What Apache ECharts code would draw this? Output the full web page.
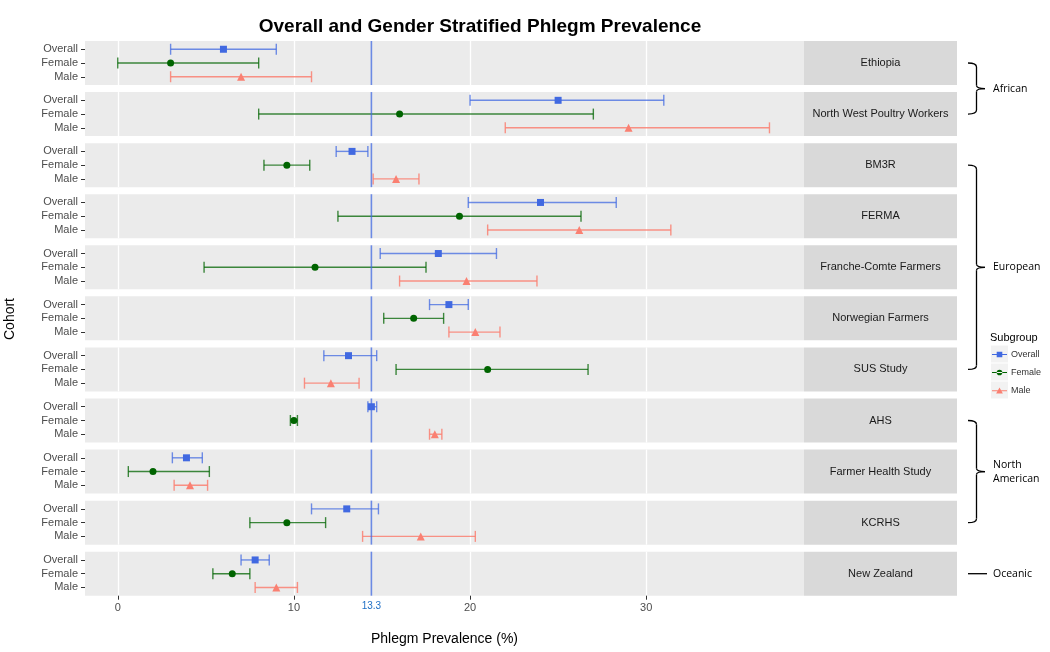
<!DOCTYPE html>
<html>
<head>
<meta charset="utf-8">
<script src="https://cdn.jsdelivr.net/npm/echarts@6/dist/echarts.min.js"></script>
<style>
  html, body { margin: 0; padding: 0; background: #fff; }
  #main { width: 1050px; height: 652px; }
</style>
</head>
<body>
<div id="main"></div>
<script>
// data
var cohorts = ['Ethiopia', 'North West Poultry Workers', 'BM3R', 'FERMA', 'Franche-Comte Farmers',
    'Norwegian Farmers', 'SUS Study', 'AHS', 'Farmer Health Study', 'KCRHS', 'New Zealand'];
var subgroups = ['Overall', 'Female', 'Male'];

var overallEst  = [6.0, 25.0, 13.3, 24.0, 18.2, 18.8, 13.1, 14.4, 3.9, 13.0, 7.8];
var overallLow  = [3.0, 20.0, 12.4, 19.9, 14.9, 17.7, 11.7, 14.2, 3.1, 11.0, 7.0];
var overallHigh = [9.0, 31.0, 14.2, 28.3, 21.5, 19.9, 14.7, 14.7, 4.8, 14.8, 8.6];

var femaleEst  = [3.0, 16.0, 9.6, 19.4, 11.2, 16.8, 21.0, 10.0, 2.0, 9.6, 6.5];
var femaleLow  = [0.0, 8.0, 8.3, 12.5, 4.9, 15.1, 15.8, 9.8, 0.6, 7.5, 5.4];
var femaleHigh = [8.0, 27.0, 10.9, 26.3, 17.5, 18.5, 26.7, 10.2, 5.2, 11.8, 7.5];

var maleEst  = [7.0, 29.0, 15.8, 26.2, 19.8, 20.3, 12.1, 18.0, 4.1, 17.2, 9.0];
var maleLow  = [3.0, 22.0, 14.5, 21.0, 16.0, 18.8, 10.6, 17.7, 3.2, 13.9, 7.8];
var maleHigh = [11.0, 37.0, 17.1, 31.4, 23.8, 21.7, 13.7, 18.4, 5.1, 20.3, 10.2];

var xTicks = [0, 10, 20, 30];
var refValue = 14.4;
var refLabel = '13.3';

var regionNames = ['African', 'European', 'North\nAmerican', 'Oceanic'];
var regionFirst = [0, 2, 7, 10];
var regionLast = [1, 6, 9, 10];

// layout
var panelLeft = 85, panelRight = 804, stripRight = 957;
var panelTop0 = 41, panelPitch = 51.07, panelHeight = 44;
var xMin = -1.86, xMax = 38.96;
var FONT = 'Liberation Sans, Arial, sans-serif';

var pointColors = ['#4169e1', '#006400', '#fa8072'];
var barColors = ['rgba(65,105,225,0.75)', 'rgba(0,100,0,0.75)', 'rgba(250,128,114,0.85)'];
var symbols = ['rect', 'circle', 'triangle'];
var symbolSizes = [7, 7, 8];
var legendIcons = [
    'path://M0,3.5h16v1h-16z M5,1h6v6h-6z',
    'path://M0,3.5h16v1h-16z M8,1a3,3 0 1,0 0.01,0z',
    'path://M0,3.5h16v1h-16z M8,0.6L11.6,7H4.4z'
];

var estimates = [overallEst, femaleEst, maleEst];
var lows = [overallLow, femaleLow, maleLow];
var highs = [overallHigh, femaleHigh, maleHigh];
var rowIdx = [0, 1, 2];

function panelTop(i) { return panelTop0 + i * panelPitch; }
function panelCenter(i) { return panelTop(i) + panelHeight / 2; }

var chart = echarts.init(document.getElementById('main'));

var grids = [], xAxes = [], yAxes = [], series = [], graphics = [];
var lastIdx = cohorts.length - 1;

function renderErrorBar(params, api) {
    var k = api.value(2);
    var a = api.coord([api.value(0), k]);
    var b = api.coord([api.value(1), k]);
    var h = 5.5;
    var style = { stroke: barColors[k], lineWidth: 1.4 };
    return {
        type: 'group',
        children: [
            { type: 'line', shape: { x1: a[0], y1: a[1], x2: b[0], y2: b[1] }, style: style },
            { type: 'line', shape: { x1: a[0], y1: a[1] - h, x2: a[0], y2: a[1] + h }, style: style },
            { type: 'line', shape: { x1: b[0], y1: b[1] - h, x2: b[0], y2: b[1] + h }, style: style }
        ]
    };
}

function makeRefRenderer(withLabel) {
    return function (params, api) {
        var cs = params.coordSys;
        var x = api.coord([api.value(0), 0])[0];
        var children = [{
            type: 'line',
            shape: { x1: x, y1: cs.y, x2: x, y2: cs.y + cs.height },
            style: { stroke: 'rgba(65,105,225,0.75)', lineWidth: 1.6 }
        }];
        if (withLabel) {
            children.push({
                type: 'text', x: x, y: cs.y + cs.height + 11,
                style: { text: refLabel, fill: '#1f6fc5', fontSize: 10, fontFamily: FONT,
                    align: 'center', verticalAlign: 'middle' }
            });
        }
        return { type: 'group', children: children };
    };
}

cohorts.forEach(function (name, i) {
    var isLast = i === lastIdx;
    grids.push({
        left: panelLeft, width: panelRight - panelLeft,
        top: panelTop(i), height: panelHeight,
        show: true, backgroundColor: '#ebebeb', borderWidth: 0
    });
    xAxes.push({
        type: 'value', gridIndex: i, min: xMin, max: xMax,
        axisLine: { show: false, onZero: false },
        axisTick: { show: isLast, length: 4, lineStyle: { color: '#333' }, customValues: xTicks },
        axisLabel: { show: isLast, fontSize: 11, color: '#4d4d4d', margin: 7, customValues: xTicks,
            fontFamily: FONT },
        splitLine: { show: true, lineStyle: { color: '#fff', width: 1.3 }, customValues: xTicks }
    });
    yAxes.push({
        type: 'value', gridIndex: i, min: -0.6, max: 2.6, inverse: true,
        axisLine: { show: false, onZero: false },
        axisTick: { show: true, length: 4, lineStyle: { color: '#333' }, customValues: rowIdx },
        axisLabel: { fontSize: 11, color: '#4d4d4d', margin: 7, fontFamily: FONT, customValues: rowIdx,
            formatter: function (v) { return subgroups[Math.round(v)]; } },
        splitLine: { show: false }
    });

    series.push({
        type: 'custom', xAxisIndex: i, yAxisIndex: i, z: 2, silent: true,
        data: subgroups.map(function (s, k) { return [lows[k][i], highs[k][i], k]; }),
        encode: { x: [0, 1], y: 2 },
        renderItem: renderErrorBar
    });

    series.push({
        type: 'custom', xAxisIndex: i, yAxisIndex: i, z: 3, silent: true,
        data: [[refValue, 0]],
        encode: { x: 0, y: 1 },
        renderItem: makeRefRenderer(isLast)
    });

    subgroups.forEach(function (s, k) {
        series.push({
            type: 'scatter', name: s, xAxisIndex: i, yAxisIndex: i, z: 4,
            symbol: symbols[k], symbolSize: symbolSizes[k],
            itemStyle: { color: pointColors[k], opacity: 1 },
            data: [[estimates[k][i], k]]
        });
    });

    // facet strip
    graphics.push({
        type: 'rect', silent: true,
        shape: { x: panelRight, y: panelTop(i), width: stripRight - panelRight, height: panelHeight },
        style: { fill: '#d9d9d9' }
    });
    graphics.push({
        type: 'text', silent: true,
        x: (panelRight + stripRight) / 2, y: panelCenter(i),
        style: { text: name, fill: '#1a1a1a', fontSize: 11, align: 'center', verticalAlign: 'middle',
            fontFamily: FONT }
    });
});

// region brackets
var bx0 = 968, bx1 = 976.5, bx2 = 985;
var bStyle = { stroke: '#000', lineWidth: 1.3, fill: 'none' };
regionNames.forEach(function (r, j) {
    var yA = panelCenter(regionFirst[j]);
    var yB = panelCenter(regionLast[j]);
    var yM = (yA + yB) / 2;
    if (regionFirst[j] === regionLast[j]) {
        graphics.push({
            type: 'line', silent: true,
            shape: { x1: bx0, y1: yM, x2: 987, y2: yM },
            style: bStyle
        });
    } else {
        graphics.push(
            { type: 'bezierCurve', silent: true,
              shape: { x1: bx0, y1: yA, cpx1: bx1, cpy1: yA, x2: bx1, y2: yA + 4 }, style: bStyle },
            { type: 'line', silent: true,
              shape: { x1: bx1, y1: yA + 4, x2: bx1, y2: yM - 3 }, style: bStyle },
            { type: 'bezierCurve', silent: true,
              shape: { x1: bx1, y1: yM - 3, cpx1: bx1, cpy1: yM, x2: bx2, y2: yM }, style: bStyle },
            { type: 'bezierCurve', silent: true,
              shape: { x1: bx2, y1: yM, cpx1: bx1, cpy1: yM, x2: bx1, y2: yM + 3 }, style: bStyle },
            { type: 'line', silent: true,
              shape: { x1: bx1, y1: yM + 3, x2: bx1, y2: yB - 4 }, style: bStyle },
            { type: 'bezierCurve', silent: true,
              shape: { x1: bx1, y1: yB - 4, cpx1: bx1, cpy1: yB, x2: bx0, y2: yB }, style: bStyle }
        );
    }
    graphics.push({
        type: 'text', silent: true, x: 993, y: yM,
        style: { text: r, fill: '#000', fontSize: 10.5, verticalAlign: 'middle', lineHeight: 14,
            fontFamily: 'Open Sans, DejaVu Sans, sans-serif' }
    });
});

// legend title and key backgrounds
graphics.push({
    type: 'text', silent: true, x: 990, y: 338,
    style: { text: 'Subgroup', fill: '#000', fontSize: 11, verticalAlign: 'middle', fontFamily: FONT }
});
subgroups.forEach(function (s, k) {
    graphics.push({
        type: 'rect', silent: true, z: -1,
        shape: { x: 991, y: 345.5 + k * 18, width: 17, height: 17 },
        style: { fill: '#f2f2f2' }
    });
});

chart.setOption({
    animation: false,
    backgroundColor: '#fff',
    title: {
        text: 'Overall and Gender Stratified Phlegm Prevalence',
        left: 475, top: 12, textAlign: 'center',
        textStyle: { fontSize: 19, fontWeight: 'bold', color: '#000', fontFamily: FONT }
    },
    legend: {
        data: subgroups.map(function (s, k) { return { name: s, icon: legendIcons[k] }; }),
        orient: 'vertical', left: 992, top: 350, padding: 0,
        itemWidth: 15, itemHeight: 7.5, itemGap: 9,
        selectedMode: false,
        textStyle: { fontSize: 9, color: '#333', padding: [0, 0, 0, -1], fontFamily: FONT }
    },
    grid: grids,
    xAxis: xAxes,
    yAxis: yAxes,
    series: series,
    graphic: [
        {
            type: 'text', silent: true, x: 10, y: 319, rotation: Math.PI / 2,
            style: { text: 'Cohort', fill: '#000', fontSize: 14, align: 'center', verticalAlign: 'middle',
                fontFamily: FONT }
        },
        {
            type: 'text', silent: true, x: (panelLeft + panelRight) / 2, y: 639,
            style: { text: 'Phlegm Prevalence (%)', fill: '#000', fontSize: 14, align: 'center', verticalAlign: 'middle',
                fontFamily: FONT }
        }
    ].concat(graphics)
});
</script>
</body>
</html>
